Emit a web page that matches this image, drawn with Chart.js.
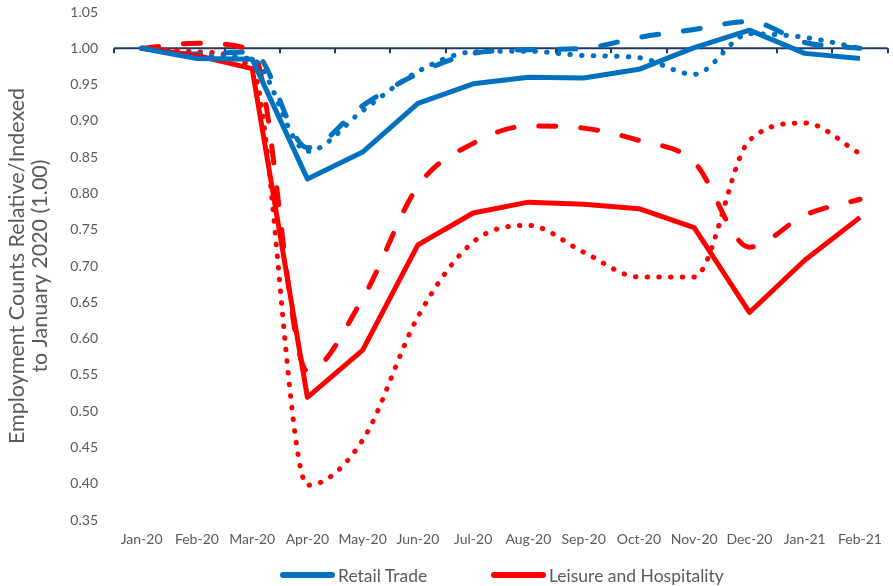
<!DOCTYPE html>
<html>
<head>
<meta charset="utf-8">
<script src="https://cdn.jsdelivr.net/npm/chart.js@4"></script>
<style>
  html, body { margin: 0; padding: 0; background: #fff; }
  #wrap { width: 893px; height: 586px; position: relative; }
  #legend { position: absolute; left: 0; top: 564px; width: 893px; height: 22px;
            font-family: Lato, "Open Sans", sans-serif; font-size: 17.5px; color: #595959; }
  #legend .item { position: absolute; top: 0; display: flex; align-items: center; height: 22px; white-space: nowrap; }
  #legend .sw { width: 55px; height: 6px; border-radius: 3px; margin-right: 3px; }
</style>
</head>
<body>
<div id="wrap"><canvas id="chart"></canvas><div id="legend"></div></div>
<script>
const months = ['Jan-20', 'Feb-20', 'Mar-20', 'Apr-20', 'May-20', 'Jun-20', 'Jul-20',
                'Aug-20', 'Sep-20', 'Oct-20', 'Nov-20', 'Dec-20', 'Jan-21', 'Feb-21'];

// Retail Trade
const retailSolid  = [1.000, 0.986, 0.985, 0.820, 0.857, 0.924, 0.951, 0.960, 0.959, 0.971, 1.001, 1.025, 0.993, 0.986];
const retailDashed = [1.000, 0.992, 0.995, 0.863, 0.921, 0.965, 0.993, 0.998, 1.000, 1.015, 1.026, 1.037, 1.008, 1.000];
const retailDotted = [1.000, 0.990, 0.985, 0.858, 0.914, 0.968, 0.995, 0.996, 0.990, 0.987, 0.964, 1.020, 1.015, 1.000];

// Leisure and Hospitality
const leisureSolid  = [1.000, 0.990, 0.972, 0.519, 0.584, 0.729, 0.773, 0.788, 0.785, 0.779, 0.753, 0.636, 0.708, 0.767];
const leisureDashed = [1.000, 1.007, 0.997, 0.555, 0.655, 0.810, 0.869, 0.893, 0.890, 0.873, 0.843, 0.726, 0.770, 0.792];
const leisureDotted = [1.000, 0.995, 0.972, 0.398, 0.460, 0.630, 0.733, 0.756, 0.719, 0.685, 0.685, 0.873, 0.897, 0.855];

const yTicks = [0.35, 0.40, 0.45, 0.50, 0.55, 0.60, 0.65, 0.70, 0.75, 0.80, 0.85, 0.90, 0.95, 1.00, 1.05];

const BLUE = '#0070C0';
const RED = '#FF0000';
const GRAY = '#595959';
const NAVY = '#1F3864';
const FONT = 'Lato, "Open Sans", sans-serif';

const DASH = [17, 25];
const DOT = [0.5, 11.2];

function line(label, data, color, dash) {
    return {
        label: label,
        data: data,
        borderColor: color,
        backgroundColor: color,
        borderWidth: 5,
        borderDash: dash,
        borderCapStyle: dash.length ? 'round' : 'butt',
        borderJoinStyle: 'round',
        pointRadius: 0,
        pointHoverRadius: 0,
        cubicInterpolationMode: dash.length ? 'monotone' : 'default',
        fill: false
    };
}

// axis line at 1.00 with tick marks between categories
const baseLine = {
    id: 'baseLine',
    beforeDatasetsDraw(chart) {
        const { ctx, chartArea, scales } = chart;
        const y = scales.y.getPixelForValue(1.0);
        const n = months.length;
        const step = (chartArea.right - chartArea.left) / n;
        ctx.save();
        ctx.strokeStyle = NAVY;
        ctx.lineWidth = 2;
        ctx.beginPath();
        ctx.moveTo(chartArea.left, y);
        ctx.lineTo(chartArea.right, y);
        for (let i = 0; i <= n; i++) {
            const x = Math.round(chartArea.left + i * step);
            ctx.moveTo(x, y);
            ctx.lineTo(x, y + 5);
        }
        ctx.stroke();
        ctx.restore();
    }
};

// html legend, only the two solid series
const htmlLegend = {
    id: 'htmlLegend',
    afterUpdate(chart) {
        const box = document.getElementById('legend');
        box.innerHTML = '';
        const lefts = [280, 491];
        chart.data.datasets.slice(0, 2).forEach((ds, i) => {
            const item = document.createElement('div');
            item.className = 'item';
            item.style.left = lefts[i] + 'px';
            item.innerHTML = `<span class="sw" style="background:${ds.borderColor}"></span><span>${ds.label}</span>`;
            box.appendChild(item);
        });
    }
};

new Chart(document.getElementById('chart'), {
    type: 'line',
    data: {
        labels: months,
        datasets: [
            line('Retail Trade', retailSolid, BLUE, []),
            line('Leisure and Hospitality', leisureSolid, RED, []),
            line('Retail Trade (dashed)', retailDashed, BLUE, DASH),
            line('Retail Trade (dotted)', retailDotted, BLUE, DOT),
            line('Leisure and Hospitality (dashed)', leisureDashed, RED, DASH),
            line('Leisure and Hospitality (dotted)', leisureDotted, RED, DOT)
        ]
    },
    options: {
        responsive: true,
        maintainAspectRatio: false,
        animation: false,
        layout: { padding: { top: 12, right: 1, bottom: 38, left: 0 } },
        scales: {
            x: {
                offset: true,
                afterFit(scale) { scale.height = 28; },
                grid: { display: false, drawTicks: false },
                border: { display: false },
                ticks: {
                    color: GRAY,
                    font: { family: FONT, size: 14 },
                    padding: 11,
                    maxRotation: 0,
                    autoSkip: false
                }
            },
            y: {
                min: 0.35,
                max: 1.05,
                afterBuildTicks(scale) {
                    scale.ticks = yTicks.map(v => ({ value: v }));
                },
                afterFit(scale) {
                    scale.width = 114;
                    scale.paddingTop = 0;
                    scale.paddingBottom = 0;
                },
                grid: { display: false, drawTicks: false },
                border: { display: false },
                ticks: {
                    color: GRAY,
                    font: { family: FONT, size: 14 },
                    padding: 16,
                    callback: v => v.toFixed(2)
                },
                title: {
                    display: true,
                    text: ['Employment Counts Relative/Indexed', 'to January 2020 (1.00)'],
                    color: GRAY,
                    font: { family: FONT, size: 21.5, lineHeight: 1.05 },
                    padding: { top: 6, bottom: 0 }
                }
            }
        },
        plugins: {
            legend: { display: false },
            tooltip: { enabled: false }
        }
    },
    plugins: [baseLine, htmlLegend]
});
</script>
</body>
</html>
